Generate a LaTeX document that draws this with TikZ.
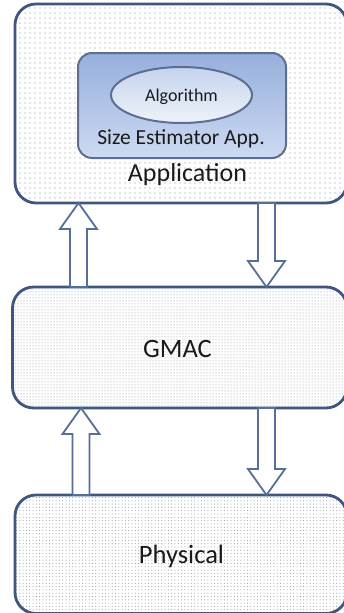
\documentclass[tikz,border=0pt]{standalone}
\usepackage{fontspec}
\setmainfont{Carlito}
\usetikzlibrary{patterns.meta,shapes.geometric,calc}

\definecolor{edge}{HTML}{3F5680}
\definecolor{arrowedge}{HTML}{566E98}
\definecolor{dotgray}{HTML}{8E929A}
\definecolor{ink}{HTML}{1A1A1A}

\tikzset{
  layerbox/.style={draw=edge, line width=2.8pt, rounded corners=21pt, outer sep=0pt,
    inner sep=0pt, preaction={fill=white}, pattern color=dotgray},
  blockarrow/.style={draw=arrowedge, line width=1.8pt, fill=white, line join=miter},
  label/.style={text=ink, inner sep=0pt, anchor=base},
}

% vertical block arrow from #1 (tail) to #2 (tip); #3 = 1 upwards, -1 downwards
\newcommand\blockarr[3]{%
  \draw[blockarrow] let \p1=(#1), \p2=(#2) in
    ({\x1-8.5pt},\y1) -- ({\x1-8.5pt},{\y2-#3*26pt}) -- ({\x1-18.5pt},{\y2-#3*26pt})
    -- (\x1,\y2) -- ({\x1+18.5pt},{\y2-#3*26pt}) -- ({\x1+8.5pt},{\y2-#3*26pt})
    -- ({\x1+8.5pt},\y1) -- cycle;}

\begin{document}
\begin{tikzpicture}[x=1pt,y=-1pt]
  \clip (0,0) rectangle (344,613);
  \fill[white] (0,0) rectangle (344,613);

  % the three layers (their right edges run past the page)
  \node[layerbox, pattern={Dots[distance=5pt, radius=0.6pt]},
        minimum width=332pt, minimum height=199pt] (app) at (181,103.5) {};
  \node[layerbox, pattern={Dots[distance=3pt, radius=0.5pt]},
        minimum width=334.5pt, minimum height=121pt] (gmacbox) at (179.75,347.5) {};
  \node[layerbox, pattern={Dots[distance=3.3pt, radius=0.5pt]},
        minimum width=332pt, minimum height=118.5pt] (physbox) at (181,554.25) {};

  % size estimator application with its algorithm
  \node[draw=edge!85, line width=2pt, rounded corners=14pt, inner sep=0pt,
        minimum width=208pt, minimum height=105pt,
        top color={rgb,255:red,150;green,175;blue,220},
        middle color={rgb,255:red,190;green,207;blue,237},
        bottom color={rgb,255:red,205;green,218;blue,242}] (est) at (182,105.5) {};
  \node[ellipse, draw=edge!85, line width=2pt, minimum width=141pt, minimum height=56pt,
        top color={rgb,255:red,196;green,211;blue,237},
        bottom color={rgb,255:red,238;green,243;blue,250}] (algo) at (181.5,95) {};

  \node[label, font=\fontsize{18}{20}\selectfont] (algotxt) at (181.5,101) {Algorithm};
  \node[label, font=\fontsize{21.5}{24}\selectfont] (esttxt) at (181,144) {Size Estimator App.};
  \node[label, font=\fontsize{26}{28}\selectfont] (apptxt) at (187.5,181) {Application};
  \node[label, font=\fontsize{26.5}{30}\selectfont] (gmac) at (177.5,357) {GMAC};
  \node[label, font=\fontsize{26.5}{30}\selectfont] (phys) at (181.5,563) {Physical};

  % arrow columns
  \coordinate (u1) at (78.5,0);
  \coordinate (d1) at (266.5,0);
  \coordinate (u2) at (81,0);
  \coordinate (d2) at (266.5,0);

  \blockarr{u1 |- gmacbox.north}{u1 |- app.south}{1}
  \blockarr{d1 |- app.south}{d1 |- gmacbox.north}{-1}
  \blockarr{u2 |- physbox.north}{u2 |- gmacbox.south}{1}
  \blockarr{d2 |- gmacbox.south}{d2 |- physbox.north}{-1}
\end{tikzpicture}
\end{document}
